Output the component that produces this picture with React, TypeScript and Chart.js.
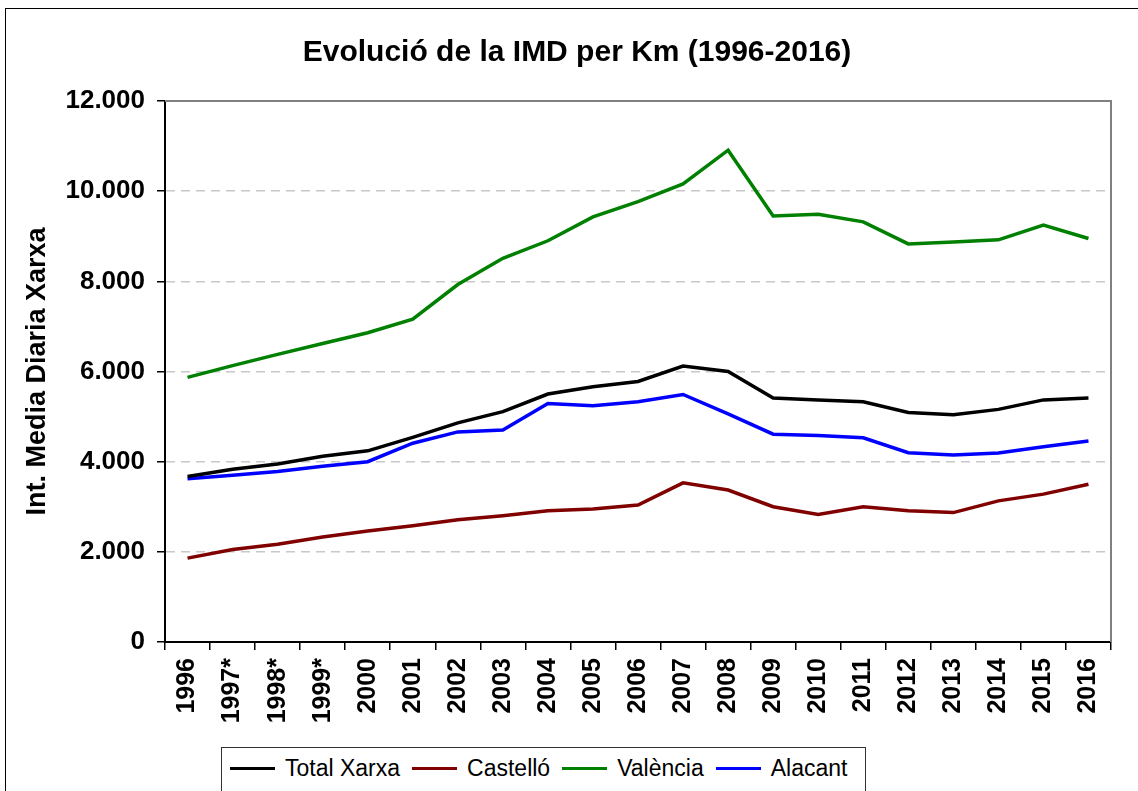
import React, { useEffect, useRef } from "react";
import { Chart, registerables } from "chart.js";

Chart.register(...registerables);

const categories = [
  "1996", "1997*", "1998*", "1999*", "2000", "2001", "2002", "2003", "2004", "2005", "2006",
  "2007", "2008", "2009", "2010", "2011", "2012", "2013", "2014", "2015", "2016",
];
const totalXarxa = [3670, 3830, 3950, 4120, 4240, 4540, 4860, 5110, 5500, 5660, 5780, 6120, 6000, 5410, 5370, 5330, 5090, 5040, 5160, 5370, 5410];
const castello = [1860, 2050, 2170, 2330, 2460, 2580, 2710, 2800, 2910, 2950, 3040, 3530, 3370, 3000, 2830, 3000, 2910, 2870, 3130, 3280, 3500];
const valencia = [5870, 6130, 6380, 6620, 6860, 7160, 7930, 8510, 8900, 9430, 9770, 10160, 10910, 9450, 9490, 9320, 8830, 8870, 8920, 9250, 8950];
const alacant = [3620, 3700, 3780, 3900, 4000, 4410, 4660, 4700, 5290, 5240, 5330, 5490, 5060, 4610, 4580, 4530, 4200, 4150, 4190, 4330, 4460];
const yTickLabels = ["0", "2.000", "4.000", "6.000", "8.000", "10.000", "12.000"];

const seriesNames = ["Total Xarxa", "Castelló", "València", "Alacant"];
const seriesColors = ["#000000", "#800000", "#008000", "#0000ff"];
const seriesData = [totalXarxa, castello, valencia, alacant];

const FONT = "'Liberation Sans', Arial, Helvetica, sans-serif";

const plotFrame = {
  id: "plotFrame",
  beforeDatasetsDraw(chart: any) {
    const { ctx, chartArea } = chart;
    ctx.save();
    ctx.strokeStyle = "#808080";
    ctx.lineWidth = 2;
    ctx.beginPath();
    ctx.moveTo(chartArea.left, chartArea.top);
    ctx.lineTo(chartArea.right, chartArea.top);
    ctx.lineTo(chartArea.right, chartArea.bottom);
    ctx.stroke();
    ctx.restore();
  },
};

export default function App() {
  const ref = useRef<HTMLCanvasElement | null>(null);

  useEffect(() => {
    if (!ref.current) return;
    const chart = new Chart(ref.current, {
      type: "line",
      data: {
        labels: categories,
        datasets: seriesNames.map((name, i) => ({
          label: name,
          data: seriesData[i],
          borderColor: seriesColors[i],
          backgroundColor: seriesColors[i],
          borderWidth: 3.5,
          pointRadius: 0,
          tension: 0,
          fill: false,
        })),
      },
      options: {
        responsive: false,
        animation: false,
        layout: { padding: { left: 43, right: 27, top: 0, bottom: 0 } },
        plugins: {
          legend: { display: false },
          tooltip: { enabled: false },
          title: {
            display: true,
            text: "Evolució de la IMD per Km (1996-2016)",
            color: "#000",
            font: { family: FONT, size: 30, weight: "bold" },
            padding: { top: 35, bottom: 30 },
          },
        },
        scales: {
          x: {
            type: "category",
            offset: true,
            grid: {
              offset: true,
              drawOnChartArea: false,
              drawTicks: true,
              tickLength: 8,
              color: "#000",
              tickColor: "#000",
              lineWidth: 1.5,
            },
            border: { color: "#000", width: 2 },
            ticks: {
              minRotation: 90,
              maxRotation: 90,
              autoSkip: false,
              padding: 8,
              color: "#000",
              font: { family: FONT, size: 25, weight: "bold" },
            },
            afterFit: (s: any) => {
              s.height = 149;
            },
          },
          y: {
            min: 0,
            max: 12000,
            ticks: {
              stepSize: 2000,
              padding: 12,
              color: "#000",
              font: { family: FONT, size: 26, weight: "bold" },
              callback: (_v: any, i: number) => yTickLabels[i],
            },
            grid: {
              color: "#c8c8c8",
              lineWidth: 1.5,
              tickColor: "#000",
              tickBorderDash: [],
              tickLength: 8,
            },
            border: { color: "#000", width: 2, dash: [9, 6] },
            title: {
              display: true,
              text: "Int. Media Diaria Xarxa",
              color: "#000",
              font: { family: FONT, size: 27, weight: "bold" },
              padding: { top: -22, bottom: 0 },
            },
            afterFit: (s: any) => {
              s.width = 122;
            },
          },
        },
      },
      plugins: [plotFrame],
    } as any);
    return () => chart.destroy();
  }, []);

  return (
    <div
      style={{
        position: "fixed",
        left: 0,
        top: 0,
        width: 1138,
        height: 791,
        background: "#fff",
        overflow: "hidden",
      }}
    >
      <div
        style={{
          position: "absolute",
          left: 5,
          top: 8,
          width: 1200,
          height: 900,
          border: "1.5px solid #000",
        }}
      />
      <canvas
        ref={ref}
        width={1138}
        height={791}
        style={{ position: "absolute", left: 0, top: 0, width: 1138, height: 791 }}
      />
      <div
        style={{
          position: "absolute",
          left: 221,
          top: 747,
          width: 645,
          height: 60,
          border: "1.5px solid #333",
          boxSizing: "border-box",
          background: "#fff",
          display: "flex",
          alignItems: "flex-start",
          paddingTop: 7,
          paddingLeft: 8,
          fontFamily: FONT,
          fontSize: 23,
          lineHeight: "27px",
          color: "#000",
          whiteSpace: "nowrap",
        }}
      >
        {seriesNames.map((name, i) => (
          <span key={name} style={{ display: "inline-flex", alignItems: "center", marginRight: 12 }}>
            <span
              style={{
                display: "inline-block",
                width: 45,
                height: 3,
                background: seriesColors[i],
                marginRight: 10,
              }}
            />
            <span>{name}</span>
          </span>
        ))}
      </div>
    </div>
  );
}
